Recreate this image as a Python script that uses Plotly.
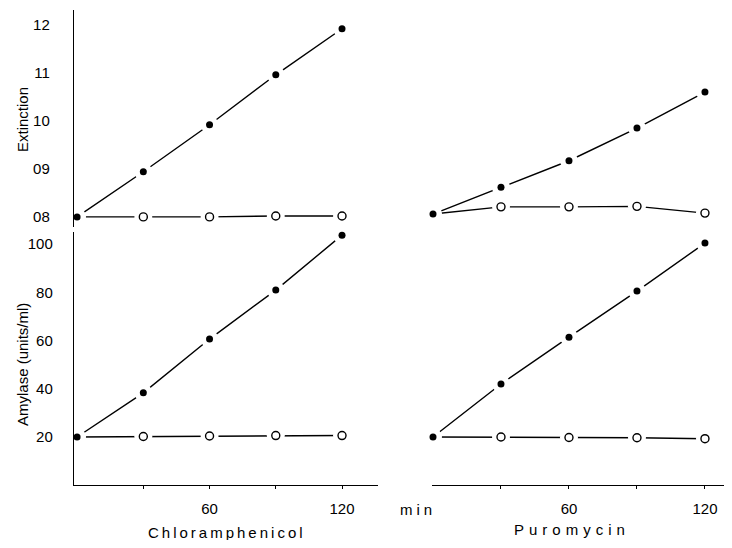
import plotly.graph_objects as go

# ---- data ----
time = [0, 30, 60, 90, 120]

chl_ext_control = [0.80, 0.894, 0.992, 1.096, 1.192]
chl_ext_drug = [0.80, 0.80, 0.80, 0.802, 0.802]
pur_ext_control = [0.806, 0.862, 0.917, 0.985, 1.06]
pur_ext_drug = [0.806, 0.821, 0.821, 0.822, 0.808]

chl_amy_control = [20, 38.3, 60.6, 80.9, 103.7]
chl_amy_drug = [20, 20.2, 20.4, 20.6, 20.6]
pur_amy_control = [20, 42, 61.4, 80.5, 100.4]
pur_amy_drug = [20, 20, 19.8, 19.7, 19.3]

ext_ticks = [0.8, 0.9, 1.0, 1.1, 1.2]
ext_ticktext = ["08", "09", "10", "11", "12"]
amy_ticks = [20, 40, 60, 80, 100]
x_ticks = [30, 60, 90, 120]
x_ticktext = ["", "60", "", "120"]

# page body has an 8px margin; figure placed at (8, 8)
OFF = 8
W, H = 732 - 2 * OFF, 548 - 2 * OFF
FONT = "Liberation Sans, Arial, sans-serif"


def px_x(p):
    return min(1.0, max(0.0, (p - OFF) / W))


def px_y(p):
    return min(1.0, max(0.0, 1 - (p - OFF) / H))


fig = go.Figure()


def add_line(x, y, xa, ya):
    fig.add_trace(go.Scatter(x=x, y=y, xaxis=xa, yaxis=ya, mode="lines",
                             line=dict(color="black", width=1.4),
                             hoverinfo="skip", showlegend=False))


def add_markers(x, y, xa, ya, filled):
    # white halo to create gaps between lines and markers
    fig.add_trace(go.Scatter(x=x, y=y, xaxis=xa, yaxis=ya, mode="markers",
                             marker=dict(size=18, color="white", line=dict(width=0)),
                             hoverinfo="skip", showlegend=False, cliponaxis=False))
    if filled:
        mk = dict(size=7, color="black", line=dict(width=0))
    else:
        mk = dict(size=8, color="white", line=dict(color="black", width=1.4))
    fig.add_trace(go.Scatter(x=x, y=y, xaxis=xa, yaxis=ya, mode="markers",
                             marker=mk, showlegend=False, cliponaxis=False))


panels = [
    ("x", "y", chl_ext_control, chl_ext_drug),
    ("x2", "y2", pur_ext_control, pur_ext_drug),
    ("x3", "y3", chl_amy_control, chl_amy_drug),
    ("x4", "y4", pur_amy_control, pur_amy_drug),
]

for xa, ya, ctrl, drug in panels:
    add_line(time, ctrl, xa, ya)
    add_line(time, drug, xa, ya)
for xa, ya, ctrl, drug in panels:
    add_markers(time[1:], drug[1:], xa, ya, False)
    add_markers(time, ctrl, xa, ya, True)

left_dom = [px_x(74), px_x(378)]
right_dom = [px_x(432), px_x(724)]
top_dom = [px_y(227), px_y(10)]
bot_dom = [px_y(485), px_y(232)]

left_range = [-1.4, 136.3]
right_range = [-0.44, 128.4]
ext_range = [0.779, 1.231]
amy_range = [0.1, 105]

tickfont = dict(family=FONT, size=15, color="black")

hidden = dict(visible=False, showgrid=False, zeroline=False, automargin=False)

fig.update_layout(
    width=W, height=H,
    margin=dict(l=0, r=0, t=0, b=0),
    paper_bgcolor="white", plot_bgcolor="white",
    showlegend=False,
    # top-left
    xaxis=dict(domain=left_dom, range=left_range, anchor="y", **hidden),
    yaxis=dict(domain=top_dom, range=ext_range, anchor="x",
               showline=True, linecolor="black", linewidth=1.4,
               showgrid=False, zeroline=False, ticks="", automargin=False,
               tickvals=ext_ticks, ticktext=ext_ticktext,
               tickfont=tickfont, ticklabelstandoff=20),
    # top-right
    xaxis2=dict(domain=right_dom, range=right_range, anchor="y2", **hidden),
    yaxis2=dict(domain=top_dom, range=ext_range, anchor="x2", **hidden),
    # bottom-left
    xaxis3=dict(domain=left_dom, range=left_range, anchor="y3",
                showline=True, linecolor="black", linewidth=1.4,
                showgrid=False, zeroline=False, automargin=False,
                ticks="outside", ticklen=3, tickwidth=1.2, tickcolor="black",
                tickvals=x_ticks, ticktext=x_ticktext,
                tickfont=tickfont, ticklabelstandoff=7),
    yaxis3=dict(domain=bot_dom, range=amy_range, anchor="x3",
                showline=True, linecolor="black", linewidth=1.4,
                showgrid=False, zeroline=False, ticks="", automargin=False,
                tickvals=amy_ticks,
                tickfont=tickfont, ticklabelstandoff=17),
    # bottom-right
    xaxis4=dict(domain=right_dom, range=right_range, anchor="y4",
                showline=True, linecolor="black", linewidth=1.4,
                showgrid=False, zeroline=False, automargin=False,
                ticks="outside", ticklen=3, tickwidth=1.2, tickcolor="black",
                tickvals=x_ticks, ticktext=x_ticktext,
                tickfont=tickfont, ticklabelstandoff=7),
    yaxis4=dict(domain=bot_dom, range=amy_range, anchor="x4", **hidden),
)

annot_font = dict(family=FONT, size=15, color="black")


def spaced(t, sp):
    return f'<span style="letter-spacing:{sp}px">{t}</span>'


def note(x, y, text, font, xanchor="center", angle=0):
    fig.add_annotation(x=px_x(x), y=px_y(y), xref="paper", yref="paper",
                       xanchor=xanchor, yanchor="middle", textangle=angle,
                       text=text, showarrow=False, font=font)


note(22, 120, "Extinction", dict(family=FONT, size=15, color="black"), angle=-90)
note(22, 365, "Amylase (units/ml)", dict(family=FONT, size=15, color="black"), angle=-90)
note(398, 509, spaced("min", 4), annot_font, xanchor="left")
note(146, 532, spaced("Chloramphenicol", 3), annot_font, xanchor="left")
note(512, 529, spaced("Puromycin", 5), annot_font, xanchor="left")

fig.write_html("out.html")
